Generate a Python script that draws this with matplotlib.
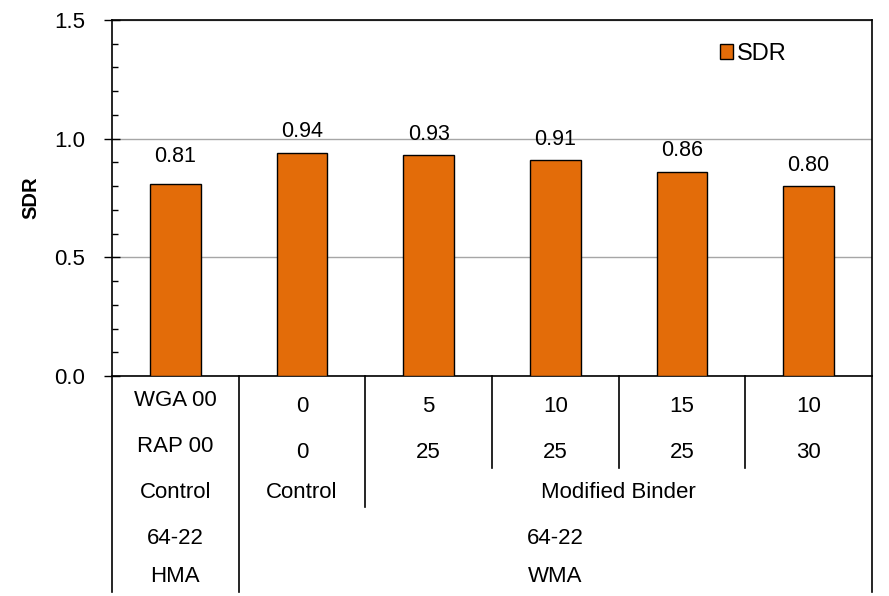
import matplotlib.pyplot as plt
from matplotlib.patches import Patch
from matplotlib.ticker import MultipleLocator

plt.rcParams['font.family'] = ['Liberation Sans', 'DejaVu Sans']

sdr = [0.81, 0.94, 0.93, 0.91, 0.86, 0.80]
wga = ["WGA 00", "0", "5", "10", "15", "10"]
rap = ["RAP 00", "0", "25", "25", "25", "30"]
binder = [("Control", 0, 0), ("Control", 1, 1), ("Modified Binder", 2, 5)]
grade = [("64-22", 0, 0), ("64-22", 1, 5)]
mix = [("HMA", 0, 0), ("WMA", 1, 5)]

orange = "#E36C09"
fs = 16
fs_val = 15.5

fig = plt.figure(figsize=(8.89, 5.96), dpi=100)
ax = fig.add_axes([112/889, 1 - 376/596, 760/889, 356/596])

x = list(range(len(sdr)))
ax.bar(x, sdr, width=0.4, color=orange, edgecolor="black", linewidth=1.0, zorder=3)
for i, v in enumerate(sdr):
    off = 12 if i == 0 else 7.5
    ax.annotate(f"{v:.2f}", (i, v), xytext=(0, off), textcoords="offset points",
                ha="center", va="bottom", fontsize=fs_val)

ax.set_xlim(-0.5, 5.5)
ax.set_ylim(0, 1.5)
ax.yaxis.set_major_locator(MultipleLocator(0.5))
ax.yaxis.set_minor_locator(MultipleLocator(0.1))
ax.set_yticklabels([f"{t:.1f}" for t in ax.get_yticks()])
ax.grid(axis="y", which="major", color="#a6a6a6", linewidth=1.0, zorder=0)
ax.tick_params(axis="y", which="major", direction="inout", length=11, width=1.0, labelsize=fs, pad=14)
ax.tick_params(axis="y", which="minor", direction="in", length=4.5, width=1.0)
ax.tick_params(axis="x", length=0, labelbottom=False)
for s in ax.spines.values():
    s.set_color("black")
    s.set_linewidth(1.2)

ax.set_ylabel("SDR", fontsize=14.5, fontweight="bold", labelpad=10)

# category table under the axis
tr = ax.get_xaxis_transform()
def fy(p):
    return (376 - p) / 356

ax.text(0, fy(401), wga[0], transform=tr, ha="center", va="center", fontsize=fs, clip_on=False)
ax.text(0, fy(447), rap[0], transform=tr, ha="center", va="center", fontsize=fs, clip_on=False)
for i in range(1, 6):
    ax.text(i, fy(407), wga[i], transform=tr, ha="center", va="center", fontsize=fs, clip_on=False)
    ax.text(i, fy(452), rap[i], transform=tr, ha="center", va="center", fontsize=fs, clip_on=False)
for lab, a, b in binder:
    ax.text((a + b) / 2, fy(492), lab, transform=tr, ha="center", va="center", fontsize=fs, clip_on=False)
for lab, a, b in grade:
    ax.text((a + b) / 2, fy(538), lab, transform=tr, ha="center", va="center", fontsize=fs, clip_on=False)
for lab, a, b in mix:
    ax.text((a + b) / 2, fy(577), lab, transform=tr, ha="center", va="center", fontsize=fs, clip_on=False)

lines = [(-0.5, 592), (0.5, 592), (1.5, 507), (2.5, 468), (3.5, 468), (4.5, 468), (5.5, 592)]
for xv, bot in lines:
    ax.plot([xv, xv], [0, fy(bot)], transform=tr, color="black", linewidth=1.2, clip_on=False)

ax.legend(handles=[Patch(facecolor=orange, edgecolor="black", label="SDR")],
          loc="center left", bbox_to_anchor=(0.785, 0.905), frameon=False, fontsize=17,
          handlelength=0.55, handleheight=0.55, handletextpad=0.15, borderpad=0)

fig.savefig("out.png", dpi=100)
